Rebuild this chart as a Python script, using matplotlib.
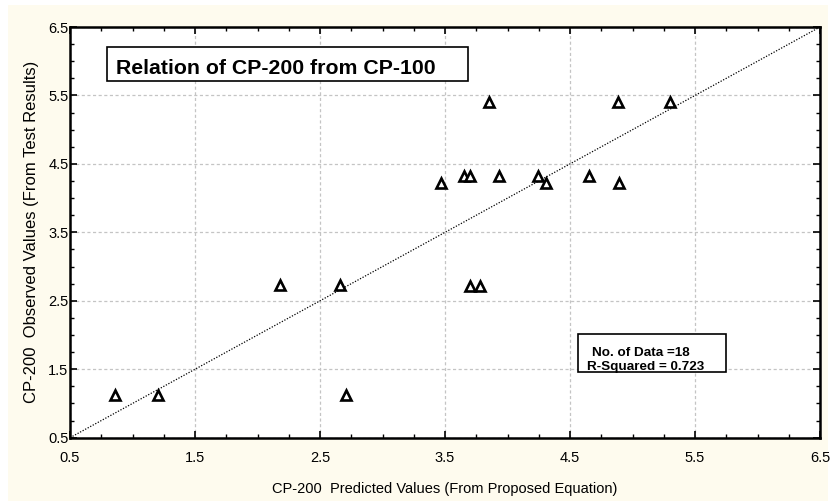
import matplotlib
matplotlib.use("Agg")
import matplotlib.pyplot as plt
from matplotlib.patches import Rectangle
from matplotlib.ticker import MultipleLocator

# data (predicted vs observed CP-200)
predicted = [0.86, 1.20, 2.71,
             2.18, 2.66, 3.70, 3.78,
             3.85, 4.88, 5.30,
             3.65, 3.70, 3.93, 4.24, 4.65,
             3.47, 4.31, 4.89]
observed = [1.12, 1.12, 1.12,
            2.73, 2.73, 2.72, 2.72,
            5.40, 5.40, 5.40,
            4.32, 4.32, 4.32, 4.32, 4.32,
            4.22, 4.22, 4.22]
tick_vals = [0.5, 1.5, 2.5, 3.5, 4.5, 5.5, 6.5]

plt.rcParams["font.family"] = ["Liberation Sans", "DejaVu Sans"]

fig = plt.figure(figsize=(8.4, 5.01), dpi=100)
fig.patch.set_facecolor("white")
# cream background panel
fig.patches.append(Rectangle((8 / 840, 0), 820 / 840, 1 - 5 / 501,
                             transform=fig.transFigure, facecolor="#fefbee",
                             edgecolor="none", zorder=-10))

ax = fig.add_axes([70 / 840, 63.3 / 501, 750 / 840, 410.7 / 501])
ax.set_facecolor("white")

# line of equality
ax.plot([0.5, 6.5], [0.5, 6.5], color="black", linestyle=(0, (1, 1.3)), linewidth=0.9)

ax.plot(predicted, observed, linestyle="none", marker="^", markersize=6.5,
        markerfacecolor="white", markeredgecolor="black", markeredgewidth=1.9, zorder=5)

ax.set_xlim(0.5, 6.5)
ax.set_ylim(0.5, 6.5)
ax.set_xticks(tick_vals)
ax.set_yticks(tick_vals)
ax.set_xticklabels([str(v) for v in tick_vals])
ax.set_yticklabels([str(v) for v in tick_vals])
ax.xaxis.set_minor_locator(MultipleLocator(0.25))
ax.yaxis.set_minor_locator(MultipleLocator(0.25))
ax.tick_params(which="both", direction="in", top=True, right=True, labelsize=10.5)
ax.tick_params(which="major", length=5, width=1.2)
ax.tick_params(which="minor", length=3, width=1.0)
ax.tick_params(axis="y", pad=1)
ax.tick_params(axis="x", pad=9.5)
for s in ax.spines.values():
    s.set_linewidth(1.8)

ax.grid(True, which="major", color="#c4c4c4", linestyle=(0, (2.5, 2)), linewidth=0.9)
ax.set_axisbelow(True)

ax.set_xlabel("CP-200  Predicted Values (From Proposed Equation)", fontsize=10.5, va="top")
ax.xaxis.set_label_coords(0.5, -0.108)
ax.set_ylabel("CP-200  Observed Values (From Test Results)", fontsize=12, labelpad=7)

# title box
ax.add_patch(Rectangle((0.0493, 0.8685), 0.4814, 0.0828, transform=ax.transAxes,
                       facecolor="white", edgecolor="black", linewidth=1.2, zorder=6))
ax.text(0.0613, 0.8856, "Relation of CP-200 from CP-100", transform=ax.transAxes,
        fontsize=15.3, fontweight="bold", va="baseline", ha="left", zorder=7)

# statistics box
ax.add_patch(Rectangle((0.6777, 0.1592), 0.1966, 0.0933, transform=ax.transAxes,
                       facecolor="white", edgecolor="black", linewidth=1.2, zorder=6))
ax.text((591.7 - 70) / 750, (437.7 - 355.7) / 410.7, "No. of Data =18",
        transform=ax.transAxes, fontsize=9.7, fontweight="bold",
        va="baseline", ha="left", zorder=7)
ax.text((586.7 - 70) / 750, (437.7 - 370.0) / 410.7, "R-Squared = 0.723",
        transform=ax.transAxes, fontsize=9.7, fontweight="bold",
        va="baseline", ha="left", zorder=7)

fig.savefig("out.png", dpi=100)
